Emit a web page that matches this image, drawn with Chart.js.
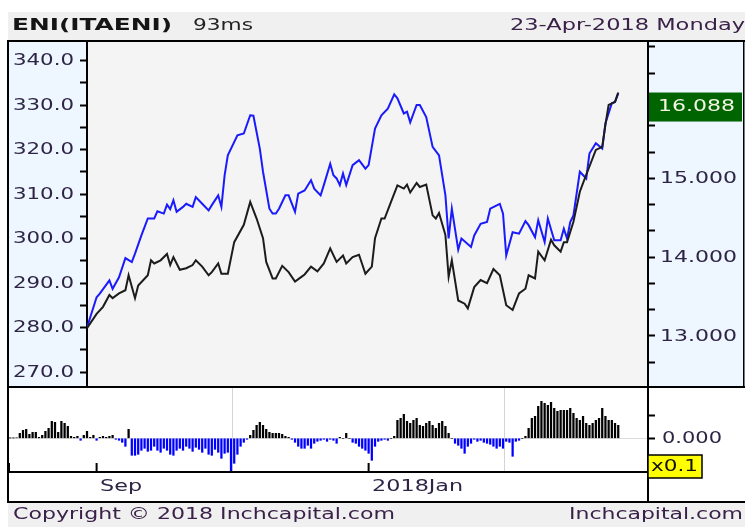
<!DOCTYPE html>
<html>
<head>
<meta charset="utf-8">
<script src="https://cdn.jsdelivr.net/npm/chart.js@4.4.1/dist/chart.umd.min.js"></script>
<style>
html,body{margin:0;padding:0;background:#fff;}
#wrap{position:relative;width:745px;height:527px;overflow:hidden;}
#wrap canvas{position:absolute;left:0;top:0;}
</style>
</head>
<body>
<div id="wrap">
  <canvas id="price" width="745" height="527"></canvas>
  <canvas id="osc" width="745" height="527"></canvas>
</div>
<script>
// trading day index (0 = first day of the price panel)
const blueDay=[0,3,4,7,8,10,12,14,15,17,19,21,22,24,25,26,27,28,30,31,33,34,36,38,39,41,42,43,44,47,49,51,52,54,55,57,58,59,60,62,63,65,66,68,70,71,73,74,76,77,78,79,80,81,83,85,87,88,90,92,94,96,97,99,100,101,103,104,106,108,110,112,113,114,116,117,120,121,123,125,126,129,130,131,133,135,137,138,140,141,143,144,146,148,149,150,151,152,154,156,157,159,161,162,164,165,166];
const blueVal=[280.0,286.8,287.6,290.6,288.7,291.3,295.6,294.7,296.6,300.7,
304.5,304.5,306.1,305.6,307.6,306.6,308.6,306.0,307.1,307.8,
307.1,309.3,307.8,306.3,307.5,309.7,307.1,314.2,318.7,323.2,
323.6,327.7,327.6,320.2,315.0,306.7,305.6,305.6,306.7,309.7,
309.7,306.0,310.1,310.8,313.1,311.2,309.7,312.0,316.8,314.2,
313.5,312.0,314.6,312.0,316.5,317.6,315.7,316.5,324.7,327.7,
329.2,332.4,331.5,328.1,328.5,326.1,330.0,330.0,327.3,320.6,
318.7,309.7,300.0,306.7,297.5,300.0,298.1,300.7,303.3,303.7,
306.7,307.8,305.6,296.2,301.4,301.1,303.9,303.0,300.3,304.1,
299.2,304.5,299.6,299.6,302.2,300.0,303.7,305.2,315.0,313.5,
319.1,321.4,320.2,325.9,330.4,330.7,332.6];

const blackDay=[0,3,5,7,8,10,12,13,15,16,19,20,21,23,25,26,27,29,31,33,34,36,38,39,41,42,44,46,49,51,53,55,56,58,59,61,63,65,67,68,70,72,74,76,78,80,81,83,85,87,89,90,92,93,95,97,99,100,101,103,104,106,108,109,110,112,113,114,116,118,119,121,123,125,127,129,131,133,135,137,138,140,141,143,145,146,148,149,150,152,154,155,157,159,161,162,163,165,166];
const blackVal=[13.10,13.28,13.37,13.52,13.48,13.54,13.58,13.77,13.48,13.64,
13.77,13.96,13.92,13.96,14.04,13.90,14.00,13.84,13.86,13.90,
13.96,13.88,13.77,13.81,13.92,13.79,13.79,14.19,14.41,14.70,
14.49,14.24,13.94,13.73,13.73,13.89,13.81,13.69,13.75,13.78,
13.88,13.82,13.92,14.11,13.94,14.02,13.92,14.00,14.03,13.79,
13.88,14.24,14.49,14.49,14.70,14.91,14.87,14.92,14.82,14.94,
14.89,14.92,14.53,14.49,14.56,14.28,13.75,13.96,13.45,13.41,
13.35,13.62,13.71,13.67,13.85,13.77,13.39,13.33,13.54,13.60,
13.77,13.73,14.07,13.96,14.22,14.15,14.07,14.19,14.19,14.45,
14.83,14.94,15.15,15.36,15.40,15.68,15.93,15.97,16.088];

// oscillator bars, one per day starting at histStart
const histStart=-24;
const histVals=[0.03,0.03,0.05,0.5,0.8,0.9,0.4,0.6,0.6,0.1,0.3,0.7,1.0,1.7,1.6,0.6,1.7,1.5,1.2,0.2,0.1,0.2,-0.2,0.3,
0.7,0.1,0.3,-0.2,0.1,0.2,0.1,0.2,0.3,-0.1,-0.2,-0.4,-0.8,0.9,
-1.7,-1.7,-1.6,-1.2,-1.0,-1.3,-1.2,-0.8,-1.2,-1.4,-1.0,-1.2,-1.6,-1.7,-1.2,-1.0,-1.2,-0.8,-1.0,-1.3,-0.9,-1.1,-1.4,-1.0,-1.6,-1.7,-1.1,-1.4,-2.0,-1.5,-1.4,-3.3,-2.5,-1.6,-0.8,-0.4,-0.1,
0.3,0.8,1.3,1.6,1.3,0.9,0.6,0.5,0.5,0.5,0.4,0.2,0.1,-0.1,
-0.4,-0.8,-1.0,-1.0,-0.7,-1.0,-0.5,-0.3,-0.2,-0.1,-0.3,-0.1,
-0.2,-0.5,0.1,0.0,0.5,0.0,-0.4,-0.5,-0.8,-1.0,-1.2,-1.5,-2.2,-0.8,-0.3,-0.2,-0.1,-0.2,0.0,0.2,
1.8,2.0,2.4,1.7,1.5,1.8,2.0,1.3,1.2,1.5,1.7,1.3,1.0,1.5,1.7,1.2,0.5,
0.0,
-0.5,-0.7,-1.0,-1.5,-0.8,-0.5,
-0.1,-0.3,-0.2,-0.4,-0.5,-0.6,-0.8,-1.0,-0.8,-1.0,-0.3,-0.4,-1.8,-0.3,-0.2,
0.0,0.2,
1.0,2.0,2.2,3.2,3.7,3.5,3.3,3.6,3.0,2.7,2.8,2.8,2.8,3.0,2.5,2.0,1.8,2.2,1.5,1.3,1.5,1.8,2.0,3.0,2.2,1.8,1.8,1.5,1.3];

const leftTicks=[270,275,280,285,290,295,300,305,310,315,320,325,330,335,340];
const rightTicks=[12.667,13,13.333,13.667,14,14.333,14.667,15,15.333,15.667,16,16.333,16.667];
const rightLabels=[13,14,15];
const histTicks=[0,2.33];
const xTickDays=[3,88];
const xTickLabels=['Sep','2018Jan'];

const FONT='"DejaVu Sans", Verdana, sans-serif';
const TXT='#2e2545';

function fitText(c,txt,x,y,w,align,font,color){
  c.save();
  c.font=font; c.fillStyle=color; c.textBaseline='middle'; c.textAlign=align;
  const m=c.measureText(txt).width;
  c.translate(x,y); c.scale(w/m,1);
  c.fillText(txt,0,0);
  c.restore();
}

const priceFrame={
  id:'priceFrame',
  beforeDraw(chart){
    const c=chart.ctx, a=chart.chartArea;
    c.save();
    c.fillStyle='#fff'; c.fillRect(0,0,745,527);
    c.fillStyle='#f0f0f0'; c.fillRect(8,12,737,28); c.fillRect(8,503,737,24);
    c.fillStyle='#eef6ff';
    c.fillRect(9,42,a.left-9,a.bottom-42);
    c.fillRect(a.right,42,745-a.right,a.bottom-42);
    c.fillStyle='#f4f4f4'; c.fillRect(a.left,a.top,a.right-a.left,a.bottom-a.top);
    c.restore();
  },
  afterDraw(chart){
    const c=chart.ctx;
    const yl=chart.scales.yL, yr=chart.scales.yR;
    leftTicks.filter(v=>v%10===0).forEach(v=>{
      fitText(c,v.toFixed(1),74,yl.getPixelForValue(v)+0.5,61,'right','16px '+FONT,TXT);
    });
    rightLabels.forEach(v=>{
      fitText(c,v.toFixed(3),660,yr.getPixelForValue(v)+0.5,77,'left','16px '+FONT,TXT);
    });
    // last value box
    const last=blackVal[blackVal.length-1];
    const by=yr.getPixelForValue(last);
    c.fillStyle='#006400'; c.fillRect(647,by,95,29);
    fitText(c,last.toFixed(3),658,by+14.5,77,'left','16px '+FONT,'#f6f6e6');
    // frame
    c.fillStyle='#000';
    c.fillRect(7,40,738,2);
    c.fillRect(7,40,2,463);
    c.fillRect(7,386,738,2);
    c.fillRect(7,501,738,2);
    c.fillRect(647,40,2,463);
    c.fillRect(743,40,1.5,347);
    // header and footer
    fitText(c,'ENI(ITAENI)',12,26,160,'left','bold 16px '+FONT,'#151515');
    fitText(c,'93ms',193,26,60,'left','16px '+FONT,'#222');
    fitText(c,'23-Apr-2018 Monday',745,26,235,'right','16px '+FONT,'#3a2148');
    fitText(c,'Copyright \u00a9 2018 Inchcapital.com',13,515,382,'left','16px '+FONT,'#3a2148');
    fitText(c,'Inchcapital.com',743,515,174,'right','16px '+FONT,'#3a2148');
  }
};

new Chart(document.getElementById('price'),{
  type:'line',
  data:{datasets:[
    {label:'ITAENI',data:blackDay.map((d,i)=>({x:d,y:blackVal[i]})),yAxisID:'yR',
     borderColor:'#1c1c1c',borderWidth:2,pointRadius:0,tension:0},
    {label:'ENI',data:blueDay.map((d,i)=>({x:d,y:blueVal[i]})),yAxisID:'yL',
     borderColor:'#1a1aff',borderWidth:2,pointRadius:0,tension:0}
  ]},
  options:{
    responsive:false,animation:false,devicePixelRatio:1,events:[],
    layout:{padding:{left:8,right:0,top:42,bottom:140}},
    plugins:{legend:{display:false},tooltip:{enabled:false}},
    scales:{
      x:{type:'linear',min:0,max:175.3,display:false},
      yL:{position:'left',min:266.63,max:344.16,
        afterBuildTicks:s=>{s.ticks=leftTicks.map(v=>({value:v}));},
        afterFit:s=>{s.width=79;},
        ticks:{display:false},
        grid:{drawOnChartArea:false,tickLength:7,tickColor:'#000',tickWidth:2},
        border:{color:'#000',width:2}},
      yR:{position:'right',min:12.353,max:16.729,
        afterBuildTicks:s=>{s.ticks=rightTicks.map(v=>({value:v}));},
        afterFit:s=>{s.width=97;},
        ticks:{display:false},
        grid:{drawOnChartArea:false,tickLength:7,tickColor:'#000',tickWidth:2},
        border:{color:'#000',width:2}}
    }
  },
  plugins:[priceFrame]
});

const oscFrame={
  id:'oscFrame',
  afterDraw(chart){
    const c=chart.ctx, xs=chart.scales.x, ys=chart.scales.y;
    c.fillStyle='#000';
    c.fillRect(7,471,642,2);
    c.fillRect(8,463,2,9);
    xTickDays.forEach((d,i)=>{
      const px=xs.getPixelForValue(d);
      c.fillStyle='#000'; c.fillRect(px-1,463,2,9);
      fitText(c,xTickLabels[i],px+3.5,487,i===0?42:91,'left','16px '+FONT,TXT);
    });
    fitText(c,'0.000',662,ys.getPixelForValue(0)+0.5,60,'left','16px '+FONT,TXT);
    c.fillStyle='#ffff00'; c.fillRect(648,455,54,23);
    c.strokeStyle='#000'; c.lineWidth=1.5; c.strokeRect(648,455,54,23);
    fitText(c,'x0.1',651,467,47,'left','16px '+FONT,'#111');
  }
};

new Chart(document.getElementById('osc'),{
  type:'bar',
  data:{datasets:[{label:'osc',
    data:histVals.map((v,i)=>({x:histStart+i,y:v})),
    backgroundColor:histVals.map(v=>v>=0?'#000':'#0000ff'),
    barThickness:1.6,borderWidth:0}]},
  options:{
    responsive:false,animation:false,devicePixelRatio:1,events:[],
    layout:{padding:{left:9,right:0,top:388,bottom:56}},
    plugins:{legend:{display:false},tooltip:{enabled:false}},
    scales:{
      x:{type:'linear',min:-24.375,max:175.3,offset:false,
        afterBuildTicks:s=>{s.ticks=xTickDays.map(v=>({value:v}));},
        afterFit:s=>{s.height=0;},
        ticks:{display:false},
        grid:{color:'#d4d4d4',drawTicks:false},
        border:{display:false}},
      y:{position:'right',min:-3.27,max:5.03,
        afterBuildTicks:s=>{s.ticks=histTicks.map(v=>({value:v}));},
        afterFit:s=>{s.width=97;},
        ticks:{display:false},
        grid:{color:ctx=>ctx.tick&&ctx.tick.value===0?'#dcdcdc':'rgba(0,0,0,0)',
          tickColor:'#000',tickLength:7,tickWidth:2},
        border:{color:'#000',width:2}}
    }
  },
  plugins:[oscFrame]
});
</script>
</body>
</html>
